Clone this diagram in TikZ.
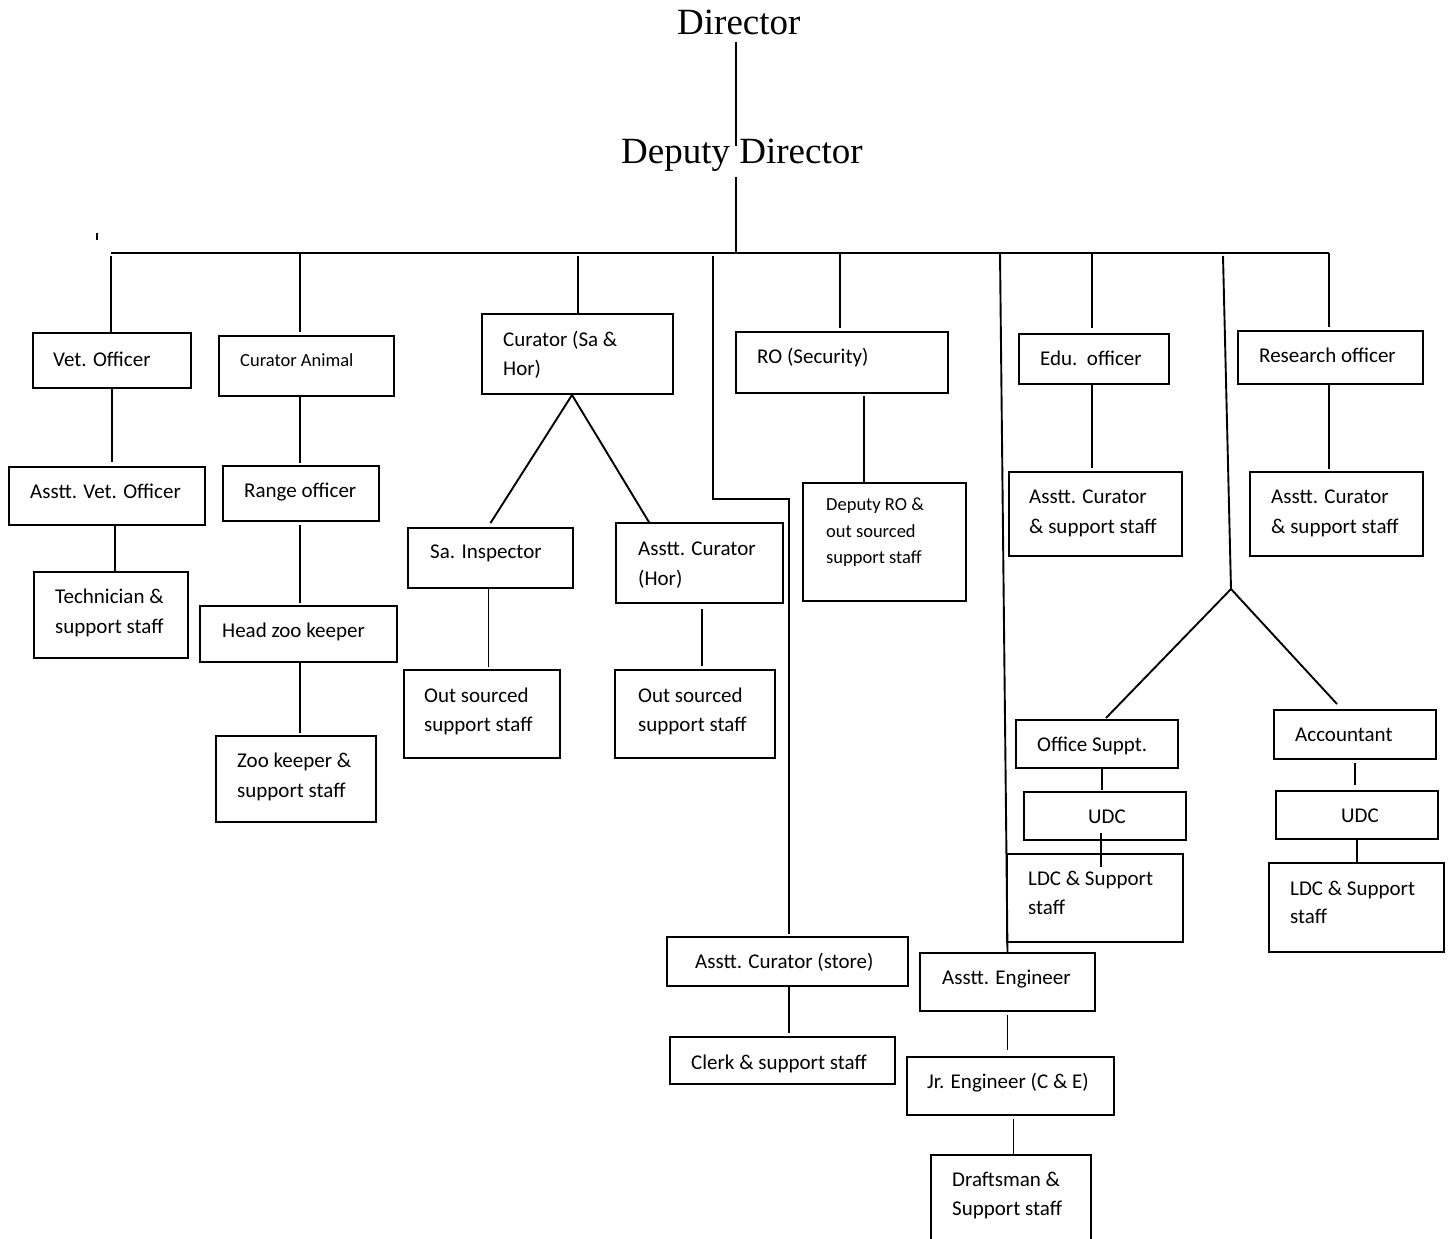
\documentclass[tikz,border=0pt]{standalone}
\usepackage{fontspec}
\setmainfont{Carlito}
\newfontfamily\tnr{Liberation Serif}
\usetikzlibrary{calc}
\tikzset{
  boxst/.style={draw, line width=2pt, inner sep=0pt, outer sep=0pt},
  ln/.style={line width=1.9pt},
  lbl/.style={anchor=base west, inner sep=0pt, font=\fontsize{21}{30}\selectfont},
  lbls/.style={anchor=base west, inner sep=0pt, font=\fontsize{18.5}{26}\selectfont},
  big/.style={anchor=base west, inner sep=0pt, font=\tnr\fontsize{37}{44}\selectfont},
}
\newcommand\mkbox[5]{\node[boxst, minimum width={(#4-#2)*1pt}, minimum height={(#5-#3)*1pt}] (#1) at ({(#2+#4)/2},{(#3+#5)/2}) {};}
\begin{document}
\begin{tikzpicture}[x=1pt,y=-1pt]
\useasboundingbox (0,0) rectangle (1451,1239);
\clip (0,0) rectangle (1451,1239);

% titles
\node[big] (dir) at (677,35) {Director};
\node[big] (dep) at (621,163) {Deputy Director};

% coordinates
\coordinate (d1) at (736,42);
\coordinate (d2) at (736,146);
\coordinate (d3) at (736,177);
\coordinate (busC) at (736,253);
\coordinate (busL) at (111,253);
\coordinate (busR) at (1329,253);
\coordinate (bus2) at (300,253);
\coordinate (bus3) at (578,253);
\coordinate (bus4) at (713,256);
\coordinate (bend1) at (713,499);
\coordinate (bend2) at (789,499);
\coordinate (bus5) at (840,253);
\coordinate (bus6) at (1000,253);
\coordinate (bus7) at (1092,253);
\coordinate (bus8) at (1223,256);
\coordinate (apex1) at (572,395);
\coordinate (apex2) at (1231,589);
\coordinate (tick1) at (97,233);
\coordinate (tick2) at (97,240);

% boxes
\mkbox{vet}{33}{333}{191}{388}
\mkbox{cani}{219}{336}{394}{396}
\mkbox{csa}{482}{314}{673}{394}
\mkbox{ro}{736}{332}{948}{393}
\mkbox{edu}{1019}{334}{1169}{384}
\mkbox{res}{1238}{331}{1423}{384}
\mkbox{avet}{9}{467}{205}{525}
\mkbox{range}{223}{466}{379}{521}
\mkbox{tech}{34}{572}{188}{658}
\mkbox{head}{200}{606}{397}{662}
\mkbox{zoo}{216}{736}{376}{822}
\mkbox{sains}{408}{528}{573}{588}
\mkbox{ahor}{616}{523}{783}{603}
\mkbox{out1}{404}{670}{560}{758}
\mkbox{out2}{615}{670}{775}{758}
\mkbox{depro}{803}{483}{966}{601}
\mkbox{acur1}{1009}{472}{1182}{556}
\mkbox{acur2}{1250}{472}{1423}{556}
\mkbox{os}{1016}{720}{1178}{768}
\mkbox{udc1}{1024}{792}{1186}{840}
\mkbox{ldc1}{1007}{854}{1183}{942}
\mkbox{acc}{1274}{710}{1436}{759}
\mkbox{udc2}{1276}{791}{1438}{839}
\mkbox{ldc2}{1269}{863}{1444}{952}
\mkbox{store}{667}{937}{908}{986}
\mkbox{clerk}{670}{1037}{895}{1084}
\mkbox{aeng}{920}{953}{1095}{1011}
\mkbox{jeng}{907}{1057}{1114}{1115}
\mkbox{draft}{931}{1155}{1091}{1265}

% labels
\node[lbl] (tvet) at (53,366) {Vet. Officer};
\node[lbls] (tcani) at (240,366) {Curator Animal};
\node[lbl] (tcsa1) at (503,346) {Curator (Sa \&};
\node[lbl] (tcsa2) at (503,375) {Hor)};
\node[lbl] (tro) at (757,363) {RO (Security)};
\node[lbl] (tedu) at (1040,365) {Edu.\ \ officer};
\node[lbl] (tres) at (1259,362) {Research officer};
\node[lbl] (tavet) at (30,498) {Asstt. Vet. Officer};
\node[lbl] (trange) at (244,497) {Range officer};
\node[lbl] (ttech1) at (55,603) {Technician \&};
\node[lbl] (ttech2) at (55,633) {support staff};
\node[lbl] (thead) at (222,637) {Head zoo keeper};
\node[lbl] (tzoo1) at (237,767) {Zoo keeper \&};
\node[lbl] (tzoo2) at (237,797) {support staff};
\node[lbl] (tsains) at (430,558) {Sa. Inspector};
\node[lbl] (tahor1) at (638,555) {Asstt. Curator};
\node[lbl] (tahor2) at (638,585) {(Hor)};
\node[lbl] (tout11) at (424,702) {Out sourced};
\node[lbl] (tout12) at (424,731) {support staff};
\node[lbl] (tout21) at (638,702) {Out sourced};
\node[lbl] (tout22) at (638,731) {support staff};
\node[lbls] (tdepro1) at (826,510) {Deputy RO \&};
\node[lbls] (tdepro2) at (826,537) {out sourced};
\node[lbls] (tdepro3) at (826,563) {support staff};
\node[lbl] (tacur11) at (1029,503) {Asstt. Curator};
\node[lbl] (tacur12) at (1029,533) {\& support staff};
\node[lbl] (tacur21) at (1271,503) {Asstt. Curator};
\node[lbl] (tacur22) at (1271,533) {\& support staff};
\node[lbl] (tos) at (1037,751) {Office Suppt.};
\node[lbl] (tudc1) at (1088,823) {UDC};
\node[lbl] (tldc11) at (1028,885) {LDC \& Support};
\node[lbl] (tldc12) at (1028,914) {staff};
\node[lbl] (tacc) at (1295,741) {Accountant};
\node[lbl] (tudc2) at (1341,822) {UDC};
\node[lbl] (tldc21) at (1290,895) {LDC \& Support};
\node[lbl] (tldc22) at (1290,923) {staff};
\node[lbl] (tstore) at (695,968) {Asstt. Curator (store)};
\node[lbl] (tclerk) at (691,1069) {Clerk \& support staff};
\node[lbl] (taeng) at (942,984) {Asstt. Engineer};
\node[lbl] (tjeng) at (927,1088) {Jr. Engineer (C \& E)};
\node[lbl] (tdraft1) at (952,1186) {Draftsman \&};
\node[lbl] (tdraft2) at (952,1215) {Support staff};

% connectors
\draw[ln] (d1) -- (d2);
\draw[ln] (d3) -- (busC);
\draw[ln] (busL) -- (busR);
\draw[line width=1.2pt] (tick1) -- (tick2);

\draw[ln] ([yshift=-3pt]busL) -- (busL |- vet.north);
\draw[ln] (vet.south) -- ([yshift=5pt]vet.south |- avet.north);
\draw[ln] ([xshift=8pt]avet.south) -- ([xshift=8pt]avet.south |- tech.north);

\draw[ln] (bus2) -- ([yshift=4pt]bus2 |- cani.north);
\draw[ln] (bus2 |- cani.south) -- ([yshift=3pt]bus2 |- range.north);
\draw[ln] ([yshift=-4pt]bus2 |- range.south) -- ([yshift=3pt]bus2 |- head.north);
\draw[ln] (bus2 |- head.south) -- ([yshift=3pt]bus2 |- zoo.north);

\draw[ln] ([yshift=-3pt]bus3) -- (bus3 |- csa.north);
\draw[ln] (apex1) -- ([yshift=5pt]sains.north);
\draw[ln] (apex1) -- ([xshift=-50pt]ahor.north);
\draw[ln] ([xshift=-2pt]sains.south) -- ([xshift=-2pt,yshift=3pt]sains.south |- out1.north);
\draw[ln] ([xshift=2.5pt,yshift=-6pt]ahor.south) -- ([xshift=2.5pt,yshift=4pt]ahor.south |- out2.north);

\draw[ln] (bus4) -- (bend1) -- (bend2) -- ([yshift=3pt]bend2 |- store.north);
\draw[ln] (bend2 |- store.south) -- ([yshift=4pt]bend2 |- clerk.north);

\draw[ln] (bus5) -- ([yshift=4pt]bus5 |- ro.north);
\draw[ln] ([xshift=22pt,yshift=-3pt]ro.south) -- ([xshift=-20.5pt]depro.north);

\draw[ln] (bus6) -- (aeng.north);

\draw[ln] (bus7) -- ([yshift=6pt]bus7 |- edu.north);
\draw[ln] (bus7 |- edu.south) -- ([yshift=4pt]bus7 |- acur1.north);

\draw[ln] (bus8) -- (apex2);
\draw[ln] (apex2) -- ([xshift=9pt,yshift=2pt]os.north);
\draw[ln] (apex2) -- ([xshift=-18pt,yshift=6pt]acc.north);
\draw[ln] ([xshift=5pt]os.south) -- ([xshift=5pt,yshift=2pt]os.south |- udc1.north);
\draw[ln] ([xshift=-4pt,yshift=7pt]udc1.south) -- ++(0,34);
\draw[ln] ([yshift=-4pt]acc.south) -- ([yshift=6pt]acc.south |- udc2.north);
\draw[ln] (udc2.south) -- (udc2.south |- ldc2.north);

\draw[ln] (busR) -- ([yshift=4pt]busR |- res.north);
\draw[ln] (busR |- res.south) -- ([yshift=3pt]busR |- acur2.north);

\draw[ln] ([yshift=-4pt]aeng.south) -- ([yshift=7pt]aeng.south |- jeng.north);
\draw[ln] ([xshift=3pt,yshift=-4pt]jeng.south) -- ([xshift=3pt]jeng.south |- draft.north);
\end{tikzpicture}
\end{document}
